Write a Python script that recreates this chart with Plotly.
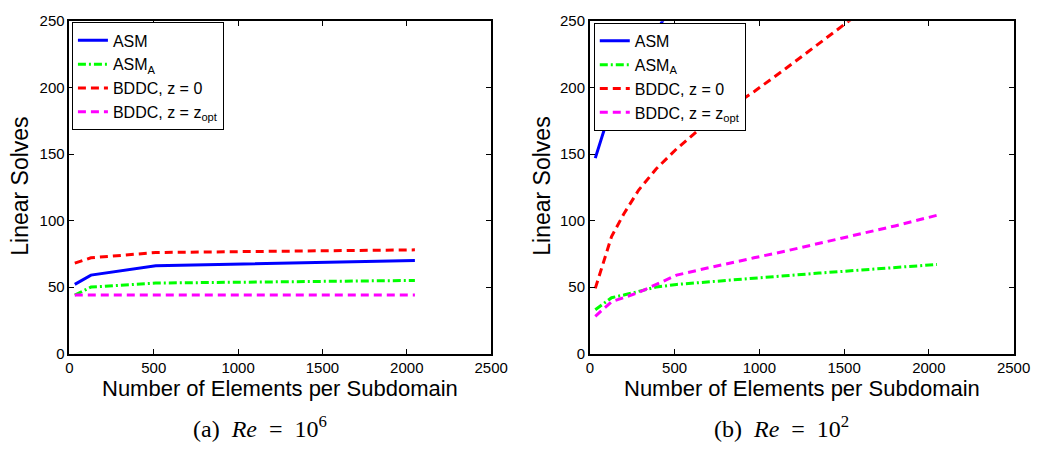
import plotly.graph_objects as go

# Re = 10^6 runs
x_re6 = [32, 128, 512, 2048]
asm_re6 = [52, 59, 66, 70]
asma_re6 = [44, 50, 53, 55]
bddc0_re6 = [68, 72, 76, 78]
bddcopt_re6 = [44, 44, 44, 44]

# Re = 10^2 runs (series that leave the axis range stop at their first point above it)
x_re2 = [32, 128, 200, 288, 392, 512, 648, 800, 968, 1152, 1352, 1568, 1800, 2048]
asm_re2 = [147, 186, 201, 220, 243, 268]
asma_re2 = [33, 42, 44, 47, 50, 52, 53.5, 55, 56.5, 58.5, 60.5, 62.5, 65, 67]
bddc0_re2 = [49, 88, 105, 123, 139, 154, 169, 182, 197, 214, 233, 254]
bddcopt_re2 = [28, 39, 42, 46, 52, 59, 63, 67, 72, 77, 83, 89, 96, 104]

x_ticks = [0, 500, 1000, 1500, 2000, 2500]
y_ticks = [0, 50, 100, 150, 200, 250]

series_names = ["ASM", "ASM<sub>A</sub>", "BDDC, z = 0", "BDDC, z = z<sub>opt</sub>"]
styles = [
    dict(color="#0000ff", width=3, dash="solid"),
    dict(color="#00ff00", width=3, dash="8px,3px,2px,3px"),
    dict(color="#ff0000", width=3, dash="8px,5px"),
    dict(color="#ff00ff", width=3, dash="8px,5px"),
]

W, H = 1060, 452
SANS = "Liberation Sans, Arial, Helvetica, sans-serif"
SERIF = "Liberation Serif, DejaVu Serif, serif"

fig = go.Figure()

panels = [
    ("x", "y", "legend", x_re6, [asm_re6, asma_re6, bddc0_re6, bddcopt_re6]),
    ("x2", "y2", "legend2", x_re2, [asm_re2, asma_re2, bddc0_re2, bddcopt_re2]),
]
for xa, ya, leg, xs, ys_list in panels:
    for name, ys, st in zip(series_names, ys_list, styles):
        fig.add_trace(go.Scatter(
            x=xs[:len(ys)], y=ys, mode="lines", name=name,
            line=st, xaxis=xa, yaxis=ya, legend=leg,
        ))

axis_common = dict(
    showline=True, linecolor="black", linewidth=1.6, mirror="ticks",
    ticks="inside", ticklen=5, tickwidth=1, tickcolor="black",
    showgrid=False, zeroline=False,
    tickfont=dict(family=SANS, size=15, color="black"),
)

# plot-area bounds in pixels
left1, right1 = 66.7, 497.0
left2, right2 = 597.7, 1030.0
top, bottom = 12.7, 358.0
yd = [(H - bottom) / H, (H - top) / H]

legend_common = dict(
    xanchor="left", yanchor="top", bgcolor="white", bordercolor="black",
    borderwidth=1, font=dict(family=SANS, size=16, color="black"),
    itemwidth=30, tracegroupgap=0,
)

fig.update_layout(
    width=W, height=H,
    margin=dict(l=0, r=0, t=0, b=0),
    paper_bgcolor="white", plot_bgcolor="white",
    xaxis=dict(domain=[left1 / W, right1 / W], range=[0, 2500], tickvals=x_ticks,
               anchor="y", **axis_common),
    yaxis=dict(domain=yd, range=[0, 250], tickvals=y_ticks, anchor="x", **axis_common),
    xaxis2=dict(domain=[left2 / W, right2 / W], range=[0, 2500], tickvals=x_ticks,
                anchor="y2", **axis_common),
    yaxis2=dict(domain=yd, range=[0, 250], tickvals=y_ticks, anchor="x2", **axis_common),
    legend=dict(x=69.3 / W, y=1 - 14 / H, **legend_common),
    legend2=dict(x=601.7 / W, y=1 - 14.5 / H, **legend_common),
    showlegend=True,
)

annotations = []
for cx, ylab_x, cap in [((left1 + right1) / 2, 16, "(a)&nbsp;&nbsp;<i>Re</i>&nbsp;&nbsp;=&nbsp;&nbsp;10<sup>6</sup>"),
                        ((left2 + right2) / 2, 548.5, "(b)&nbsp;&nbsp;<i>Re</i>&nbsp;&nbsp;=&nbsp;&nbsp;10<sup>2</sup>")]:
    annotations.append(dict(
        text="Number of Elements per Subdomain", x=cx / W, y=1 - 379 / H,
        xref="paper", yref="paper", showarrow=False, xanchor="center", yanchor="top",
        font=dict(family=SANS, size=22, color="black")))
    annotations.append(dict(
        text="Linear Solves", x=ylab_x / W, y=1 - 184 / H, textangle=-90,
        xref="paper", yref="paper", showarrow=False, xanchor="center", yanchor="middle",
        font=dict(family=SANS, size=23, color="black")))
    annotations.append(dict(
        text=cap, x=(cx - 21) / W, y=1 - 434 / H,
        xref="paper", yref="paper", showarrow=False, xanchor="center", yanchor="middle",
        font=dict(family=SERIF, size=24, color="black")))
fig.update_layout(annotations=annotations)

fig.write_html("out.html")
